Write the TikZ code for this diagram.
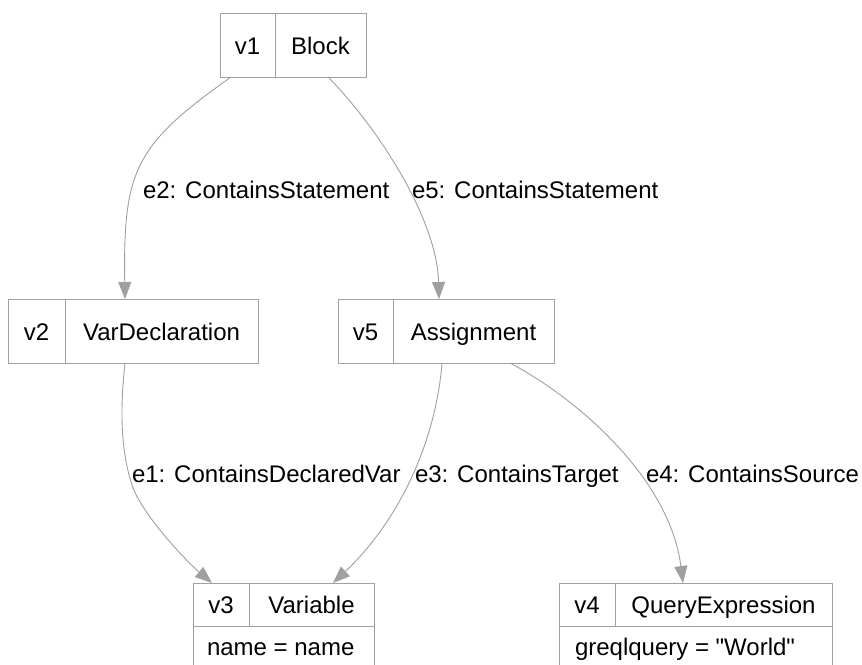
\documentclass[tikz,border=0pt]{standalone}
\usepackage{fontspec}
\setmainfont{Liberation Sans}
\usetikzlibrary{arrows.meta}
\definecolor{rim}{HTML}{A0A0A0}
\begin{document}
\begin{tikzpicture}[x=1pt,y=-1pt,
  record/.style={draw=rim, line width=1pt, inner sep=0pt, outer sep=0pt, rectangle},
  cellline/.style={draw=rim, line width=1pt},
  lbl/.style={inner sep=0pt, outer sep=0pt, font=\fontsize{24}{28}\selectfont, text=black},
  edge/.style={draw=rim, line width=0.9pt, -{Triangle[length=17pt,width=13pt]}}]
\clip (0,0) rectangle (862,664);
\fill[white] (0,0) rectangle (862,664);

% record outlines
\node[record, minimum width=146pt, minimum height=64pt] (v1) at (293,45) {};
\node[record, minimum width=250pt, minimum height=64pt] (v2) at (133,331) {};
\node[record, minimum width=216pt, minimum height=64pt] (v5) at (446,331) {};
\node[record, minimum width=181pt, minimum height=86pt] (v3) at (283.5,626) {};
\node[record, minimum width=273pt, minimum height=86pt] (v4) at (695.5,626) {};

% cell dividers
\draw[cellline] ([xshift=55pt]v1.north west) -- ([xshift=55pt]v1.south west);
\draw[cellline] ([xshift=57pt]v2.north west) -- ([xshift=57pt]v2.south west);
\draw[cellline] ([xshift=55pt]v5.north west) -- ([xshift=55pt]v5.south west);
\draw[cellline] ([yshift=-43pt]v3.north west) -- ([yshift=-43pt]v3.north east);
\draw[cellline] ([xshift=56pt]v3.north west) -- ([xshift=56pt,yshift=-43pt]v3.north west);
\draw[cellline] ([yshift=-43pt]v4.north west) -- ([yshift=-43pt]v4.north east);
\draw[cellline] ([xshift=56pt]v4.north west) -- ([xshift=56pt,yshift=-43pt]v4.north west);

% record texts
\node[lbl, anchor=base] (v1id) at (247.5,54) {v1};
\node[lbl, anchor=base] (v1ty) at (320.5,54) {Block};
\node[lbl, anchor=base] (v2id) at (36.5,340) {v2};
\node[lbl, anchor=base] (v2ty) at (161.5,340) {VarDeclaration};
\node[lbl, anchor=base] (v5id) at (365.5,340) {v5};
\node[lbl, anchor=base] (v5ty) at (473.5,340) {Assignment};
\node[lbl, anchor=base] (v3id) at (221,613) {v3};
\node[lbl, anchor=base] (v3ty) at (311.5,613) {Variable};
\node[lbl, anchor=base west] (v3at) at (207,655) {name = name};
\node[lbl, anchor=base] (v4id) at (587,613) {v4};
\node[lbl, anchor=base] (v4ty) at (723.5,613) {QueryExpression};
\node[lbl, anchor=base west] (v4at) at (575,655) {greqlquery = \textquotedbl World\textquotedbl};

% edge labels
\node[lbl, anchor=base west] (e2l) at (143,198) {e2: ContainsStatement};
\node[lbl, anchor=base west] (e5l) at (412,198) {e5: ContainsStatement};
\node[lbl, anchor=base west] (e1l) at (132,482) {e1: ContainsDeclaredVar};
\node[lbl, anchor=base west] (e3l) at (415,482) {e3: ContainsTarget};
\node[lbl, anchor=base west] (e4l) at (646,482) {e4: ContainsSource};

% edges
\draw[edge] ([xshift=-62pt]v1.south) .. controls (135,145) and (123,170) .. ([xshift=-8pt]v2.north);
\draw[edge] ([xshift=35pt]v1.south) .. controls (380,130) and (437,220) .. ([xshift=-7pt]v5.north);
\draw[edge] ([xshift=-8pt]v2.south) .. controls (121,400) and (119,445) .. (132,485)
            .. controls (141,513) and (185,560) .. ([xshift=-71.5pt]v3.north);
\draw[edge] ([xshift=-4pt]v5.south) .. controls (436,440) and (400,520) .. ([xshift=49.5pt]v3.north);
\draw[edge] ([xshift=64pt]v5.south) .. controls (580,400) and (670,480) .. ([xshift=-12.5pt]v4.north);
\end{tikzpicture}
\end{document}
